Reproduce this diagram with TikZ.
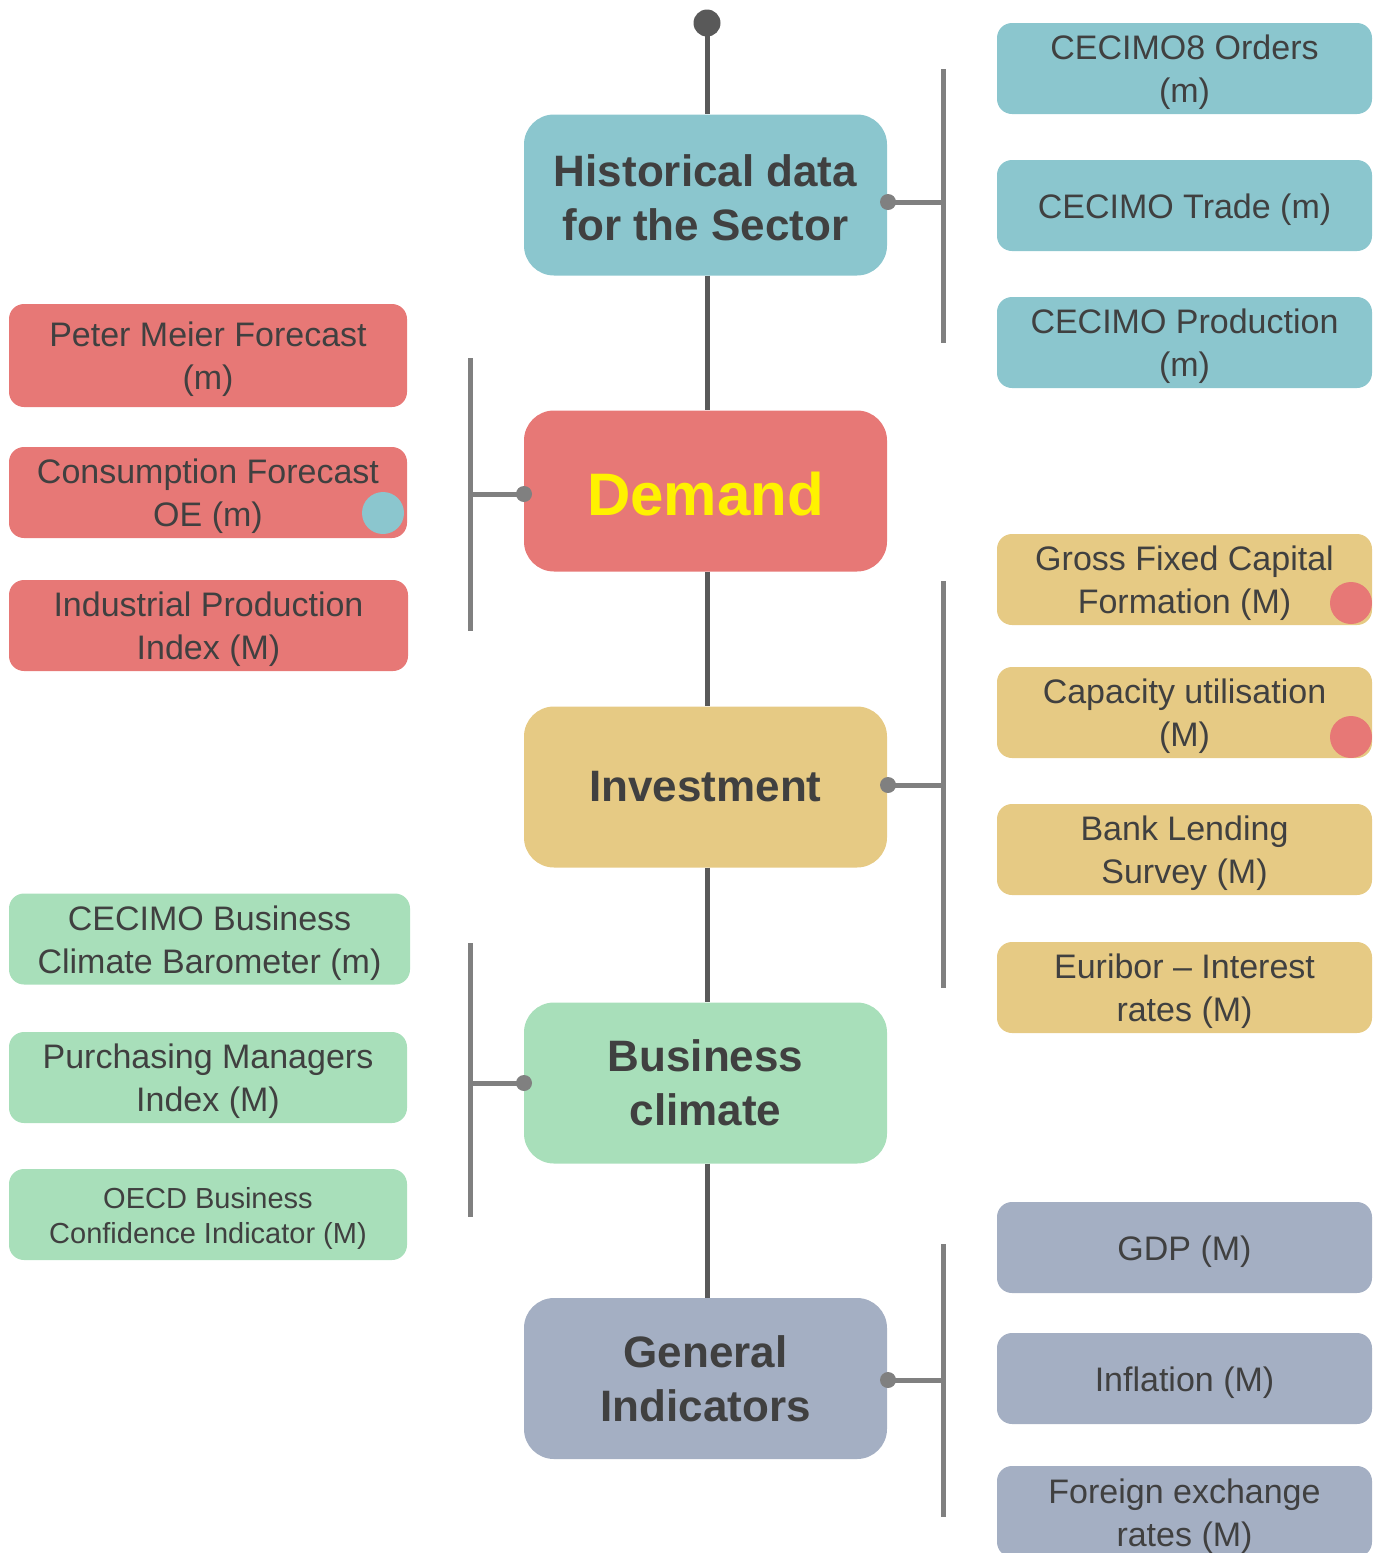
\documentclass[tikz,border=0pt]{standalone}
\usepackage{fontspec}
\setmainfont{Liberation Sans}
\definecolor{cteal}{HTML}{8BC6CE}
\definecolor{cred}{HTML}{E77876}
\definecolor{cyel}{HTML}{E6CA84}
\definecolor{cgreen}{HTML}{A8DFBA}
\definecolor{cblue}{HTML}{A4AFC3}
\definecolor{ctext}{HTML}{404040}
\definecolor{cspine}{HTML}{595959}
\definecolor{cbrack}{HTML}{808080}
\newcommand{\ts}{\rule{0pt}{33pt}}
\newcommand{\tso}{\rule{0pt}{28pt}}
\tikzset{
  mainbox/.style={rounded corners=30pt, minimum width=363pt, minimum height=161pt, inner sep=0pt, align=center, text=ctext, font=\fontsize{44}{54}\selectfont\bfseries},
  sidebox/.style={rounded corners=15pt, minimum width=375pt, minimum height=91pt, inner sep=0pt, align=center, text=ctext, font=\fontsize{34}{43}\selectfont},
  spine/.style={draw=cspine, line width=5pt},
  brack/.style={draw=cbrack, line width=5pt},
  jdot/.style={fill=cbrack, circle, inner sep=0pt, minimum size=16pt},
  mark dot/.style={circle, inner sep=0pt, minimum size=42pt}
}
\begin{document}
\begin{tikzpicture}[x=1pt,y=-1pt]
\useasboundingbox (0,0) rectangle (1379,1553);
% spine
\node[circle, fill=cspine, inner sep=0pt, minimum size=27pt] (top) at (707,23) {};
\node[mainbox, fill=cteal] (hist) at (705.5,195) {\rule{0pt}{37pt}Historical data\\for the Sector};
\node[mainbox, fill=cred, text=yellow, font=\fontsize{60}{66}\selectfont\bfseries] (dem) at (705.5,491) {\rule{0pt}{49pt}Demand};
\node[mainbox, fill=cyel] (inv) at (705.5,787) {Investment};
\node[mainbox, fill=cgreen] (bus) at (705.5,1083) {Business\\climate};
\node[mainbox, fill=cblue] (gen) at (705.5,1378.5) {General\\Indicators};
\draw[spine] (top.center) -- (hist.north -| top.center);
\draw[spine] (hist.south -| top.center) -- (dem.north -| top.center);
\draw[spine] (dem.south -| top.center) -- (inv.north -| top.center);
\draw[spine] (inv.south -| top.center) -- (bus.north -| top.center);
\draw[spine] (bus.south -| top.center) -- (gen.north -| top.center);

% right: historical
\node[sidebox, fill=cteal] (h1) at (1184.5,68.5) {\ts CECIMO8 Orders\\(m)};
\node[sidebox, fill=cteal] (h2) at (1184.5,205.5) {\ts CECIMO Trade (m)};
\node[sidebox, fill=cteal] (h3) at (1184.5,342.5) {\ts CECIMO Production\\(m)};
\coordinate (hbT) at (943,69);
\coordinate (hbB) at (943,343);
\coordinate (hbM) at (943,202);
\node[jdot] (hd) at (888,202) {};
\draw[brack] (hbT) -- (hbB);
\draw[brack] (hd.center) -- (hbM);

% left: demand
\node[sidebox, fill=cred, minimum width=398pt, minimum height=103pt] (d1) at (208,355.5) {\ts Peter Meier Forecast\\(m)};
\node[sidebox, fill=cred, minimum width=398pt] (d2) at (208,492.5) {\ts Consumption Forecast\\OE (m)};
\node[sidebox, fill=cred, minimum width=399pt] (d3) at (208.5,625.5) {\ts Industrial Production\\Index (M)};
\node[mark dot, fill=cteal] (d2m) at (383,513) {};
\coordinate (dbT) at (470,358);
\coordinate (dbB) at (470,631);
\coordinate (dbM) at (470,494);
\node[jdot] (dd) at (524,494) {};
\draw[brack] (dbT) -- (dbB);
\draw[brack] (dd.center) -- (dbM);

% right: investment
\node[sidebox, fill=cyel] (i1) at (1184.5,579.5) {\ts Gross Fixed Capital\\Formation (M)};
\node[sidebox, fill=cyel] (i2) at (1184.5,712.5) {\ts Capacity utilisation\\(M)};
\node[sidebox, fill=cyel] (i3) at (1184.5,849.5) {\ts Bank Lending\\Survey (M)};
\node[sidebox, fill=cyel] (i4) at (1184.5,987.5) {\ts Euribor -- Interest\\rates (M)};
\node[mark dot, fill=cred] (i1m) at (1351,603) {};
\node[mark dot, fill=cred] (i2m) at (1351,737) {};
\coordinate (ibT) at (943,581);
\coordinate (ibB) at (943,988);
\coordinate (ibM) at (943,785);
\node[jdot] (id) at (888,785) {};
\draw[brack] (ibT) -- (ibB);
\draw[brack] (id.center) -- (ibM);

% left: business climate
\node[sidebox, fill=cgreen, minimum width=401pt] (b1) at (209.5,939) {\ts CECIMO Business\\Climate Barometer (m)};
\node[sidebox, fill=cgreen, minimum width=398pt] (b2) at (208,1077.5) {\ts Purchasing Managers\\Index (M)};
\node[sidebox, fill=cgreen, minimum width=398pt, font=\fontsize{29}{35}\selectfont] (b3) at (208,1214.5) {\tso OECD Business\\Confidence Indicator (M)};
\coordinate (bbT) at (470,943);
\coordinate (bbB) at (470,1217);
\coordinate (bbM) at (470,1083);
\node[jdot] (bd) at (524,1083) {};
\draw[brack] (bbT) -- (bbB);
\draw[brack] (bd.center) -- (bbM);

% right: general indicators
\node[sidebox, fill=cblue] (g1) at (1184.5,1247.5) {\ts GDP (M)};
\node[sidebox, fill=cblue] (g2) at (1184.5,1378.5) {\ts Inflation (M)};
\node[sidebox, fill=cblue] (g3) at (1184.5,1511.5) {\ts Foreign exchange\\rates (M)};
\coordinate (gbT) at (943,1244);
\coordinate (gbB) at (943,1517);
\coordinate (gbM) at (943,1380);
\node[jdot] (gd) at (888,1380) {};
\draw[brack] (gbT) -- (gbB);
\draw[brack] (gd.center) -- (gbM);
\end{tikzpicture}
\end{document}
